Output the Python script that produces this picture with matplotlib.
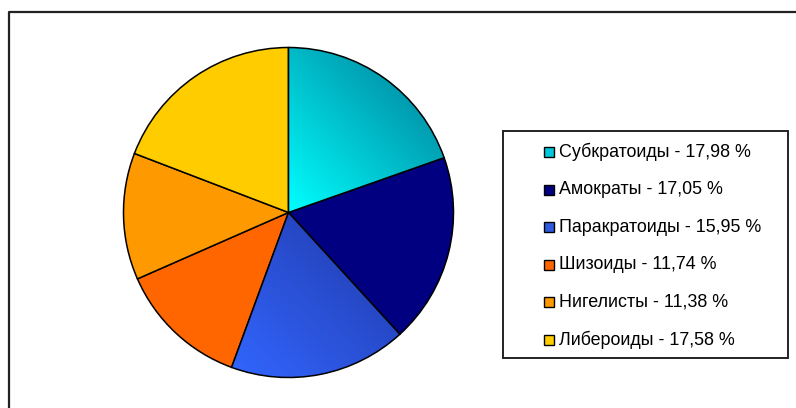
import numpy as np
import matplotlib
matplotlib.use('Agg')
from matplotlib import pyplot as plt
from matplotlib.patches import Rectangle

plt.rcParams['font.family'] = ['Liberation Sans', 'DejaVu Sans']

labels = ['Субкратоиды', 'Амократы', 'Паракратоиды', 'Шизоиды', 'Нигелисты', 'Либероиды']
values = [17.98, 17.05, 15.95, 11.74, 11.38, 17.58]
colors = ['#00d8e8', '#000080', '#3366ee', '#ff6600', '#ff9900', '#ffcc00']
# gradients (light, dark) for slices that have them
grads = {0: ((0, 255, 255), (0, 118, 145)), 2: ((50, 102, 255), (32, 55, 165))}

W, H = 796, 408
fig = plt.figure(figsize=(W / 100, H / 100), dpi=100)
ax = fig.add_axes([0, 0, 1, 1])

cx, cy, r = 288.5, H - 212.5, 165
wedges, _ = ax.pie(values, colors=colors, startangle=90, counterclock=False,
                   center=(cx, cy), radius=r, frame=True,
                   wedgeprops=dict(edgecolor='black', linewidth=1.1))

# gradient fill for some slices
for i, (c1, c2) in grads.items():
    w = wedges[i]
    bb = w.get_path().get_extents(w.get_transform())
    inv = ax.transData.inverted()
    (x0, y0), (x1, y1) = inv.transform([[bb.x0, bb.y0], [bb.x1, bb.y1]])
    n = 200
    u, v = np.meshgrid(np.linspace(0, 1, n), np.linspace(0, 1, n))
    t = (u + v) / 2
    img = np.zeros((n, n, 3))
    for k in range(3):
        img[..., k] = (c1[k] + (c2[k] - c1[k]) * t) / 255
    im = ax.imshow(img, extent=(x0, x1, y0, y1), origin='lower', zorder=w.get_zorder() + 0.1,
                   interpolation='bilinear')
    im.set_clip_path(w)
    w.set_facecolor('none')
    w.set_zorder(w.get_zorder() + 0.2)

ax.set_xlim(0, W)
ax.set_ylim(0, H)
ax.set_aspect('auto')
ax.axis('off')

# outer chart frame (only top and left visible)
ax.plot([8.5, 8.5, W + 5], [-5, H - 11.5, H - 11.5], color='#222222', lw=1.6, clip_on=False)

# legend
ax.add_patch(Rectangle((503, H - 358), 285, 227, facecolor='white', edgecolor='#222222', lw=1.4))
row0, step = 152, 37.5
sq_cols = ['#00c8dc', '#000080', '#2f5ae0', '#ff6600', '#ff9900', '#ffcc00']
for i, (lab, val) in enumerate(zip(labels, values)):
    yy = H - (row0 + i * step)
    ax.add_patch(Rectangle((544, yy - 5), 10, 10, facecolor=sq_cols[i], edgecolor='black', lw=1))
    ax.text(559, yy, f'{lab} - {val:.2f} %'.replace('.', ','), fontsize=12.9,
            va='center', ha='left', color='black')

fig.savefig('out.png', dpi=100)
